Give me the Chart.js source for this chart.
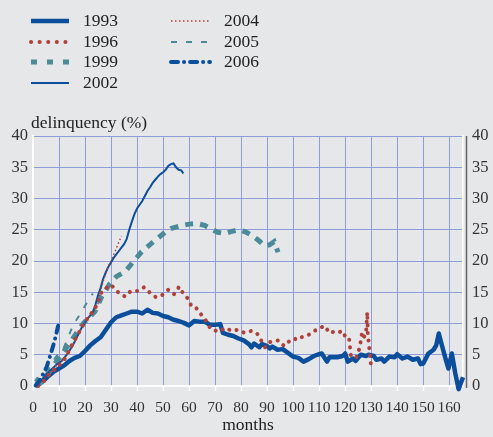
<!DOCTYPE html>
<html>
<head>
<meta charset="utf-8">
<script src="https://cdn.jsdelivr.net/npm/chart.js@4.4.1/dist/chart.umd.min.js"></script>
<style>
  html, body { margin: 0; padding: 0; background: #e6e7e9; }
  #wrap { width: 493px; height: 437px; }
</style>
</head>
<body>
<div id="wrap"><canvas id="delinquencyChart" width="493" height="437"></canvas></div>
<script>
// axis ticks
const xTicks = [0, 10, 20, 30, 40, 50, 60, 70, 80, 90, 100, 110, 120, 130, 140, 150, 160];
const yTicks = [0, 5, 10, 15, 20, 25, 30, 35, 40];

// vintage labels
const vintages = ['1993', '1996', '1999', '2002', '2004', '2005', '2006'];

// months since origination / delinquency (%) per vintage
const m1993 = [1, 2, 4, 6, 8, 10, 12, 14, 16, 18, 20, 22, 24, 26, 28, 30, 32, 34, 36, 38, 40, 42, 44, 46, 48, 50, 52, 54, 56, 58, 60, 62, 64, 66, 68, 70, 72, 73, 75, 77, 79, 81, 83, 84, 85, 87, 88, 90, 91, 92, 94, 96, 98, 100, 102, 104, 106, 108, 110, 111, 113, 114, 117, 119, 120, 121, 123, 124, 125, 126, 128, 129, 131, 132, 134, 135, 137, 139, 140, 142, 144, 146, 148, 149, 150, 152, 154, 155, 156, 157, 158.5, 159.7, 161, 162.3, 163.6, 165.3];
const v1993 = [0, 0.2, 0.8, 1.6, 2.3, 2.8, 3.3, 4.0, 4.5, 4.8, 5.6, 6.5, 7.2, 7.8, 9.0, 10.2, 11.0, 11.3, 11.6, 11.9, 11.9, 11.6, 12.2, 11.7, 11.6, 11.2, 11.0, 10.6, 10.4, 10.1, 9.7, 10.4, 10.3, 10.3, 9.8, 9.8, 9.9, 8.5, 8.2, 8.0, 7.6, 7.3, 6.7, 6.2, 6.8, 6.2, 6.7, 6.4, 6.0, 6.3, 5.8, 5.9, 5.3, 4.7, 4.5, 3.9, 4.3, 4.8, 5.1, 5.2, 3.9, 4.6, 4.6, 4.8, 5.2, 3.9, 4.4, 4.0, 4.5, 5.0, 4.8, 5.0, 4.8, 4.2, 4.4, 3.9, 4.7, 4.6, 5.1, 4.4, 4.7, 4.2, 4.4, 3.5, 3.6, 5.2, 5.8, 6.5, 8.4, 6.8, 4.5, 2.8, 5.2, 2.1, -0.5, 1.4];

const m1996 = [2, 4, 6.5, 9.7, 12.3, 14.9, 16.8, 20, 21.9, 23.8, 25.1, 26.4, 28.3, 30, 32.4, 35.4, 37.6, 40.1, 42.7, 45, 47.3, 49.5, 52, 54.2, 56.2, 57.6, 59.7, 61, 62.7, 64.9, 66.8, 68.3, 71.3, 74.1, 76.4, 78.7, 81.3, 83.8, 86, 87.7, 89.2, 90.9, 92.7, 94.4, 96.5, 98.6, 100.1, 101.7, 103.1, 105.3, 107.8, 110.1, 112.3, 113.8, 115.8, 116.8, 119, 120.4, 121.5, 122.2, 124.2, 125.4, 126, 126.5, 127.3, 128, 128.5, 128.7, 129.1, 129.4, 129.7, 130.3];
const v1996 = [0, 0.7, 2.0, 3.1, 4.4, 6.5, 7.9, 10.3, 11.3, 12.4, 13.5, 15.1, 15.7, 16.2, 15.1, 14.3, 15.2, 15.2, 15.8, 14.9, 14.2, 14.5, 15.4, 14.7, 15.9, 14.9, 13.9, 12.7, 12.5, 11.3, 10.3, 9.1, 8.7, 9.3, 8.8, 9.0, 8.5, 8.8, 8.5, 7.3, 6.2, 7.0, 7.2, 7.3, 6.4, 7.2, 7.2, 7.9, 7.8, 8.0, 8.7, 9.3, 9.6, 8.5, 8.7, 8.5, 8.8, 7.6, 7.6, 4.8, 4.5, 5.9, 7.2, 8.6, 7.9, 8.3, 11.8, 8.3, 6.8, 5.4, 4.0, 2.5];

const m1999 = [1, 3, 5, 8.5, 12.3, 16, 19.3, 23.8, 26.4, 29.6, 32, 34.1, 36, 38, 41.8, 46.3, 50.8, 53, 56.5, 60, 63, 66, 68.1, 71, 73.8, 76, 79.2, 82, 84.5, 87, 89.2, 91, 92.7, 94.2];
const v1999 = [1.2, 0.6, 1.5, 3.6, 5.8, 8.0, 10.0, 11.9, 14.3, 16.4, 17.5, 18.0, 18.6, 19.6, 21.5, 23.1, 24.6, 25.2, 25.6, 25.9, 26.0, 25.7, 25.2, 24.6, 24.4, 24.7, 25.0, 24.6, 24.0, 23.2, 22.4, 22.6, 23.1, 21.4];

const m2002 = [1, 3, 5, 7, 9, 11, 13, 15, 17, 19, 21, 23, 24, 25, 26, 27, 28, 29, 31, 33, 35, 36, 37, 38, 39, 40, 41, 42, 43, 44, 45, 46, 47, 48, 49, 50, 51, 52, 53, 54, 55, 56, 57, 57.8];
const v2002 = [0.1, 0.8, 1.8, 2.6, 3.4, 4.0, 5.0, 6.3, 7.9, 9.6, 10.8, 11.8, 13.0, 14.5, 15.7, 17.2, 18.2, 19.1, 20.5, 21.6, 22.7, 23.5, 25.0, 26.3, 27.5, 28.4, 29.0, 29.6, 30.4, 31.2, 31.8, 32.5, 33.0, 33.5, 33.9, 34.2, 34.6, 35.2, 35.5, 35.6, 35.0, 34.6, 34.5, 34.0];

const m2004 = [1, 3, 5, 7, 9, 11, 13, 15, 17, 19, 21, 23, 25, 26, 27, 28, 29, 30, 31, 32, 33, 34];
const v2004 = [0, 0.6, 1.6, 2.5, 3.3, 4.0, 5.0, 6.3, 7.9, 9.6, 10.8, 11.6, 13.2, 15.3, 16.8, 18.0, 19.2, 20.0, 21.0, 22.0, 23.0, 24.0];

const m2005 = [1, 3, 5, 7, 8.5, 11.7, 13.6, 15.5, 18.1, 21.7, 23];
const v2005 = [0.5, 1.2, 2.2, 3.3, 4.5, 6.0, 7.9, 9.8, 11.5, 14.0, 14.8];

const m2006 = [1, 2.7, 4, 5.3, 6.5, 7.8, 8.5, 9.2, 9.7, 10];
const v2006 = [0.1, 1.0, 2.0, 3.1, 4.7, 6.5, 7.6, 8.8, 9.7, 10.2];

const BLUE = '#0b4f9c';
const RED = '#b0403a';
const TEAL = '#4b8b99';
const GRID = '#8e9dd8';
const SERIF = '"Liberation Serif", "DejaVu Serif", serif';

function pts(xs, ys) {
    return xs.map((x, i) => ({ x: x, y: ys[i] }));
}

/**
 * Background, titles, two-column legend and the right-hand axis rule
 */
const decorations = {
    id: 'decorations',
    beforeDraw(chart) {
        const ctx = chart.ctx;
        ctx.save();
        ctx.fillStyle = '#e6e7e9';
        ctx.fillRect(0, 0, chart.width, chart.height);
        ctx.restore();
    },
    afterDraw(chart) {
        const ctx = chart.ctx;
        const area = chart.chartArea;
        ctx.save();

        // right axis rule
        ctx.strokeStyle = '#666';
        ctx.lineWidth = 1.5;
        ctx.beginPath();
        ctx.moveTo(area.right + 3.5, area.top);
        ctx.lineTo(area.right + 3.5, area.bottom + 2);
        ctx.stroke();

        // titles
        ctx.fillStyle = '#222';
        ctx.font = '17.5px ' + SERIF;
        ctx.textBaseline = 'middle';
        ctx.textAlign = 'left';
        ctx.fillText('delinquency (%)', 31, 123);
        ctx.textAlign = 'center';
        ctx.fillText('months', (area.left + area.right) / 2, 425);

        // legend
        const cols = [{ x0: 31, x1: 69, tx: 83 }, { x0: 171, x1: 210, tx: 224 }];
        const rows = [21, 42, 62, 83];
        chart.data.datasets.forEach((ds, i) => {
            const col = cols[i < 4 ? 0 : 1];
            const y = rows[i < 4 ? i : i - 4];
            ctx.strokeStyle = ds.borderColor;
            ctx.lineWidth = ds.borderWidth;
            ctx.lineCap = ds.borderCapStyle || 'butt';
            ctx.setLineDash(ds.legendDash || ds.borderDash || []);
            ctx.beginPath();
            ctx.moveTo(col.x0, y);
            ctx.lineTo(col.x1, y);
            ctx.stroke();
            ctx.setLineDash([]);
            ctx.fillStyle = '#222';
            ctx.textAlign = 'left';
            ctx.fillText(ds.label, col.tx, y);
        });
        ctx.restore();
    }
};

function initChart() {
    const ctx = document.getElementById('delinquencyChart');
    if (!ctx) return;

    new Chart(ctx, {
        type: 'line',
        data: {
            datasets: [
                {
                    label: vintages[0],
                    data: pts(m1993, v1993),
                    borderColor: BLUE,
                    borderWidth: 4.5,
                    borderJoinStyle: 'round',
                    order: 6
                },
                {
                    label: vintages[1],
                    data: pts(m1996, v1996),
                    borderColor: RED,
                    borderWidth: 4,
                    borderCapStyle: 'round',
                    borderDash: [0.1, 7.5],
                    legendDash: [0.1, 8.5],
                    order: 2
                },
                {
                    label: vintages[2],
                    data: pts(m1999, v1999),
                    borderColor: TEAL,
                    borderWidth: 5,
                    borderDash: [8, 7],
                    legendDash: [6, 10],
                    order: 5
                },
                {
                    label: vintages[3],
                    data: pts(m2002, v2002),
                    borderColor: BLUE,
                    borderWidth: 2,
                    order: 4
                },
                {
                    label: vintages[4],
                    data: pts(m2004, v2004),
                    borderColor: RED,
                    borderWidth: 1.5,
                    borderDash: [1.5, 2.5],
                    order: 1
                },
                {
                    label: vintages[5],
                    data: pts(m2005, v2005),
                    borderColor: TEAL,
                    borderWidth: 2,
                    borderDash: [6, 9],
                    order: 3
                },
                {
                    label: vintages[6],
                    data: pts(m2006, v2006),
                    borderColor: BLUE,
                    borderWidth: 4,
                    borderCapStyle: 'round',
                    borderDash: [7, 6, 0.1, 6],
                    order: 0
                }
            ]
        },
        options: {
            responsive: false,
            animation: false,
            clip: 8,
            layout: { padding: { top: 136, left: 0, right: 0, bottom: 0 } },
            elements: {
                point: { radius: 0 },
                line: { tension: 0 }
            },
            plugins: {
                legend: { display: false },
                tooltip: { enabled: false }
            },
            scales: {
                x: {
                    type: 'linear',
                    min: 0,
                    max: 165.3,
                    afterBuildTicks: (s) => { s.ticks = xTicks.map(v => ({ value: v })); },
                    afterFit: (s) => { s.height = 51; },
                    grid: {
                        color: GRID,
                        lineWidth: 1,
                        drawTicks: true,
                        tickLength: 5,
                        tickColor: '#fff',
                        tickWidth: 1.5
                    },
                    border: { display: true, color: '#fff', width: 2 },
                    ticks: {
                        font: { family: SERIF, size: 15.5 },
                        color: '#333',
                        padding: 8,
                        maxRotation: 0,
                        autoSkip: false
                    }
                },
                y: {
                    position: 'left',
                    min: 0,
                    max: 40,
                    afterBuildTicks: (s) => { s.ticks = yTicks.map(v => ({ value: v })); },
                    afterFit: (s) => { s.width = 33; },
                    grid: { color: GRID, lineWidth: 1, drawTicks: false },
                    border: { display: true, color: '#fff', width: 2 },
                    ticks: {
                        font: { family: SERIF, size: 16.5 },
                        color: '#333',
                        padding: 5
                    }
                },
                y2: {
                    position: 'right',
                    min: 0,
                    max: 40,
                    afterBuildTicks: (s) => { s.ticks = yTicks.map(v => ({ value: v })); },
                    afterFit: (s) => { s.width = 30; },
                    grid: { display: true, drawOnChartArea: false, drawTicks: false },
                    border: { display: true, color: '#fff', width: 1.5 },
                    ticks: {
                        font: { family: SERIF, size: 16.5 },
                        color: '#333',
                        padding: 9
                    }
                }
            }
        },
        plugins: [decorations]
    });
}

initChart();
</script>
</body>
</html>
